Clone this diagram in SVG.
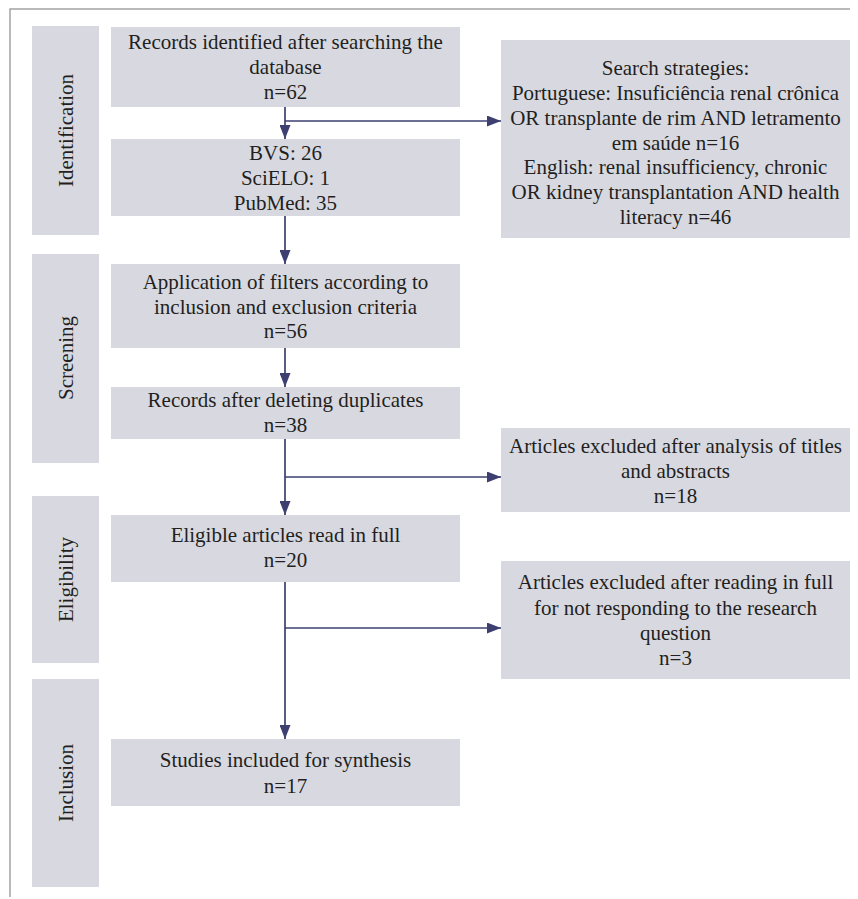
<svg xmlns="http://www.w3.org/2000/svg" width="858" height="899" viewBox="0 0 858 899">
<defs>
<style>
.box{fill:#d8d9e0}
.t{font-family:"Liberation Serif","Times New Roman",serif;font-size:21px;fill:#231f20;text-anchor:middle}
.c{stroke:#3d3f70;stroke-width:1.7;fill:none}
.frame{stroke:#a3a3a3;stroke-width:1.5;fill:none}
</style>
<marker id="ah" markerUnits="userSpaceOnUse" markerWidth="15" markerHeight="11" refX="14" refY="5.5" orient="auto">
<path d="M0,0 L14,5.5 L0,11 Z" fill="#3d3f70"/>
</marker>
</defs>
<rect width="858" height="899" fill="#fff"/>
<path class="frame" d="M850,9 H10 V897"/>

<g id="phase-identification"><rect class="box" x="32" y="26" width="67" height="209"/><text class="t" transform="translate(73,130.5) rotate(-90)">Identification</text></g>
<g id="phase-screening"><rect class="box" x="32" y="254" width="67" height="209"/><text class="t" transform="translate(73,358) rotate(-90)">Screening</text></g>
<g id="phase-eligibility"><rect class="box" x="32" y="496" width="67" height="167"/><text class="t" transform="translate(73,579.5) rotate(-90)">Eligibility</text></g>
<g id="phase-inclusion"><rect class="box" x="32" y="679" width="67" height="208"/><text class="t" transform="translate(73,783) rotate(-90)">Inclusion</text></g>

<g id="records"><rect class="box" x="111" y="27" width="349" height="80"/>
<text class="t" x="285.5" y="49">Records identified after searching the</text>
<text class="t" x="285.5" y="74">database</text>
<text class="t" x="285.5" y="99">n=62</text></g>

<g id="sources"><rect class="box" x="111" y="139" width="349" height="77"/>
<text class="t" x="285.5" y="160">BVS: 26</text>
<text class="t" x="285.5" y="185">SciELO: 1</text>
<text class="t" x="285.5" y="210">PubMed: 35</text></g>

<g id="search"><rect class="box" x="501" y="40" width="349" height="198"/>
<text class="t" x="675.5" y="75">Search strategies:</text>
<text class="t" x="675.5" y="100">Portuguese: Insuficiência renal crônica</text>
<text class="t" x="675.5" y="125">OR transplante de rim AND letramento</text>
<text class="t" x="675.5" y="149.5">em saúde n=16</text>
<text class="t" x="675.5" y="174">English: renal insufficiency, chronic</text>
<text class="t" x="675.5" y="199">OR kidney transplantation AND health</text>
<text class="t" x="675.5" y="224">literacy n=46</text></g>

<g id="filters"><rect class="box" x="111" y="264" width="349" height="84"/>
<text class="t" x="285.5" y="289">Application of filters according to</text>
<text class="t" x="285.5" y="313.5">inclusion and exclusion criteria</text>
<text class="t" x="285.5" y="338">n=56</text></g>

<g id="duplicates"><rect class="box" x="111" y="387" width="349" height="52"/>
<text class="t" x="285.5" y="407">Records after deleting duplicates</text>
<text class="t" x="285.5" y="432">n=38</text></g>

<g id="excluded1"><rect class="box" x="501" y="428" width="349" height="84"/>
<text class="t" x="675.5" y="453">Articles excluded after analysis of titles</text>
<text class="t" x="675.5" y="477.5">and abstracts</text>
<text class="t" x="675.5" y="503">n=18</text></g>

<g id="eligible"><rect class="box" x="111" y="515" width="349" height="67"/>
<text class="t" x="285.5" y="542">Eligible articles read in full</text>
<text class="t" x="285.5" y="567">n=20</text></g>

<g id="excluded2"><rect class="box" x="501" y="561" width="349" height="118"/>
<text class="t" x="675.5" y="589">Articles excluded after reading in full</text>
<text class="t" x="675.5" y="614.5">for not responding to the research</text>
<text class="t" x="675.5" y="640">question</text>
<text class="t" x="675.5" y="665">n=3</text></g>

<g id="included"><rect class="box" x="111" y="739" width="349" height="67"/>
<text class="t" x="285.5" y="767">Studies included for synthesis</text>
<text class="t" x="285.5" y="793">n=17</text></g>

<g id="connectors">
<path class="c" d="M285,107 V139" marker-end="url(#ah)"/>
<path class="c" d="M285,121 H501" marker-end="url(#ah)"/>
<path class="c" d="M285,216 V264" marker-end="url(#ah)"/>
<path class="c" d="M285,348 V387" marker-end="url(#ah)"/>
<path class="c" d="M285,439 V515" marker-end="url(#ah)"/>
<path class="c" d="M285,477 H501" marker-end="url(#ah)"/>
<path class="c" d="M285,582 V739" marker-end="url(#ah)"/>
<path class="c" d="M285,628 H501" marker-end="url(#ah)"/>
</g>
</svg>
